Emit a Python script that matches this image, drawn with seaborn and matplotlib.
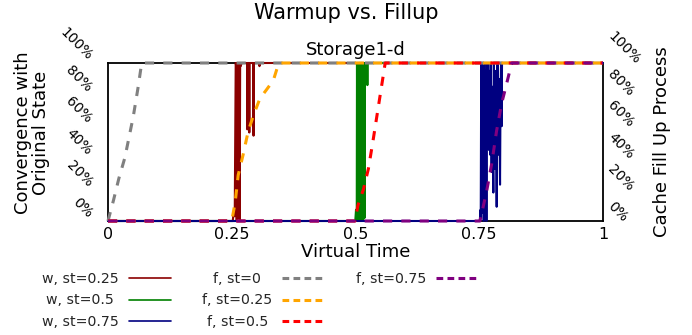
import numpy as np
import pandas as pd
import matplotlib
matplotlib.use("Agg")
import matplotlib.pyplot as plt
import seaborn as sns
from matplotlib.lines import Line2D
from matplotlib.transforms import Affine2D

# ---------------- data ----------------
x_ticks = [0, 0.25, 0.5, 0.75, 1]
x_tick_labels = ["0", "0.25", "0.5", "0.75", "1"]
y_ticks = [0, 0.2, 0.4, 0.6, 0.8, 1.0]
y_tick_labels = ["0%", "20%", "40%", "60%", "80%", "100%"]

# warmup (convergence with original state)
w25_t = [0, 0.252, 0.254, 0.256, 0.258, 0.259, 0.260, 0.261, 0.262, 0.263, 0.264, 0.265,
         0.266, 0.267, 0.268, 0.270, 0.272, 0.281, 0.2815, 0.282, 0.285, 0.2855, 0.286,
         0.2935, 0.294, 0.2945, 0.3055, 0.306, 0.3065, 1.0]
w25_v = [0, 0, 0.06, 0.03, 1.0, 0.98, 0.0, 1.0, 0.97, 0.02, 1.0, 0.99,
         0.0, 1.0, 0.98, 1.0, 1.0, 1.0, 0.58, 1.0, 1.0, 0.56, 1.0,
         1.0, 0.54, 1.0, 1.0, 0.98, 1.0, 1.0]

w50_t = [0, 0.4995, 0.501, 0.5025, 0.503, 0.504, 0.505, 0.506, 0.507, 0.509, 0.510,
         0.511, 0.513, 0.5135, 0.515, 0.5155, 0.518, 0.5185, 0.519, 0.5205, 0.521,
         0.5235, 0.524, 0.5245, 0.526, 1.0]
w50_v = [0, 0, 0.07, 0.02, 1.0, 0.0, 1.0, 0.02, 1.0, 1.0, 0.0,
         1.0, 1.0, 0.01, 0.98, 0.0, 0.99, 0.02, 1.0, 0.97, 1.0,
         1.0, 0.86, 1.0, 1.0, 1.0]

w75_t = [0, 0.751, 0.7525, 0.753, 0.754, 0.755, 0.756, 0.757, 0.758, 0.759, 0.7605,
         0.762, 0.763, 0.7645, 0.766, 0.767, 0.768, 0.7695, 0.771, 0.772, 0.7735,
         0.775, 0.776, 0.777, 0.7785, 0.7795, 0.7805, 0.782, 0.783, 0.784, 0.7852,
         0.786, 0.787, 0.7885, 0.7895, 0.791, 0.792, 0.793, 0.794, 0.7953, 0.796, 1.0]
w75_v = [0, 0, 0.07, 0.02, 1.0, 0.05, 1.0, 0.9, 1.0, 0.0, 1.0,
         0.03, 0.95, 0.0, 1.0, 0.55, 1.0, 0.45, 0.95, 0.42, 1.0,
         0.31, 0.85, 0.6, 0.18, 1.0, 0.5, 0.33, 0.95, 0.7, 0.09,
         0.75, 1.0, 0.42, 0.9, 0.55, 0.23, 0.8, 1.0, 0.6, 1.0, 1.0]

# fillup (cache fill up process)
f0_t = [0, 0.011, 0.022, 0.034, 0.051, 0.061, 0.068, 1.0]
f0_v = [0, 0.13, 0.27, 0.40, 0.66, 0.85, 1.0, 1.0]
f25_t = [0, 0.25, 0.257, 0.263, 0.273, 0.283, 0.294, 0.307, 0.32, 0.334, 0.345, 1.0]
f25_v = [0, 0, 0.12, 0.29, 0.42, 0.565, 0.67, 0.776, 0.83, 0.89, 1.0, 1.0]
f50_t = [0, 0.499, 0.505, 0.516, 0.526, 0.535, 0.544, 0.552, 0.56, 1.0]
f50_v = [0, 0, 0.10, 0.20, 0.33, 0.50, 0.68, 0.84, 1.0, 1.0]
f75_t = [0, 0.7515, 0.765, 0.775, 0.785, 0.7953, 0.8054, 0.8155, 1.0]
f75_v = [0, 0, 0.19, 0.36, 0.57, 0.745, 0.87, 1.0, 1.0]

w_labels = ["w, st=0.25", "w, st=0.5", "w, st=0.75"]
f_labels = ["f, st=0", "f, st=0.25", "f, st=0.5", "f, st=0.75"]
w_colors = ["darkred", "green", "navy"]
f_colors = ["gray", "orange", "red", "purple"]

# ---------------- style ----------------
sns.set_theme(style="white")
plt.rcParams["font.family"] = ["DejaVu Sans"]

fig = plt.figure(figsize=(6.92, 3.35), dpi=100)
W, H = 692, 335
ax = fig.add_axes([108 / W, 1 - 221 / H, 495 / W, 158 / H])
ax2 = ax.twinx()

w_series = [(w25_t, w25_v), (w50_t, w50_v), (w75_t, w75_v)]
f_series = [(f0_t, f0_v), (f25_t, f25_v), (f50_t, f50_v), (f75_t, f75_v)]

for (t, v), c in zip(w_series, w_colors):
    sns.lineplot(x=t, y=v, ax=ax, color=c, lw=1.5, estimator=None, sort=False,
                 zorder=3, clip_on=False, legend=False)

for (t, v), c in zip(f_series, f_colors):
    sns.lineplot(x=t, y=v, ax=ax2, color=c, lw=2.2, estimator=None, sort=False,
                 zorder=3, clip_on=False, legend=False, linestyle=(0, (3, 3)))

for a in (ax, ax2):
    a.set_xlim(0, 1)
    a.set_ylim(0, 1)
    a.set_yticks(y_ticks)
    a.set_yticklabels(y_tick_labels)
ax.set_xticks(x_ticks)
ax.set_xticklabels(x_tick_labels)

for s in ax.spines.values():
    s.set_visible(True)
    s.set_color("black")
    s.set_linewidth(1.3)
for s in ax2.spines.values():
    s.set_visible(False)

ax.tick_params(axis="x", length=0, pad=4.3, labelsize=11.5, colors="black")
ax.tick_params(axis="y", length=0, pad=9.4, labelsize=10, colors="black")
ax2.tick_params(axis="y", length=0, pad=1.4, labelsize=10, colors="black")
for lbl in ax.get_yticklabels():
    lbl.set_rotation(-45)
    lbl.set_ha("right")
    lbl.set_va("bottom")
for lbl in ax2.get_yticklabels():
    lbl.set_rotation(-45)
    lbl.set_ha("left")
    lbl.set_va("bottom")
    lbl.set_transform(lbl.get_transform() + Affine2D().translate(0, -4))

ax.set_xlabel("Virtual Time", fontsize=13, color="black")
ax.xaxis.set_label_coords(0.5, -0.139)
ax.set_ylabel("Convergence with\nOriginal State", fontsize=13, color="black", linespacing=1.0)
ax.yaxis.set_label_coords(-0.117, 0.557)
ax2.set_ylabel("Cache Fill Up Process", fontsize=13, color="black")
ax2.yaxis.set_label_coords(1.101, 0.5)

ax.set_title("Storage1-d", fontsize=13, pad=6, color="black")
fig.suptitle("Warmup vs. Fillup", fontsize=15, y=0.99, color="black")

# ---------------- legend ----------------
handles = [Line2D([], [], color=c, lw=1.2) for c in w_colors]
handles += [Line2D([], [], color=c, lw=2.2, linestyle=(0, (2.2, 1.4))) for c in f_colors]
labels = w_labels + f_labels
handles += [Line2D([], [], color="none"), Line2D([], [], color="none")]
labels += ["", ""]
leg = fig.legend(handles, labels, ncol=3, loc="upper left", bbox_to_anchor=(0.042, 0.227),
                 frameon=False, markerfirst=False, fontsize=10.2, handlelength=3.0,
                 handletextpad=0.7, columnspacing=2.2, labelspacing=0.55)

fig.canvas.draw()
renderer = fig.canvas.get_renderer()
texts = leg.get_texts()
for col in range(3):
    col_texts = texts[col * 3:(col + 1) * 3]
    widths = [t.get_window_extent(renderer).width if t.get_text() else 0 for t in col_texts]
    maxw = max(widths)
    for t, w in zip(col_texts, widths):
        if t.get_text():
            dx = (maxw - w) / 2.0
            t.set_transform(t.get_transform() + Affine2D().translate(-dx, 0))

fig.savefig("out.png", dpi=100)
